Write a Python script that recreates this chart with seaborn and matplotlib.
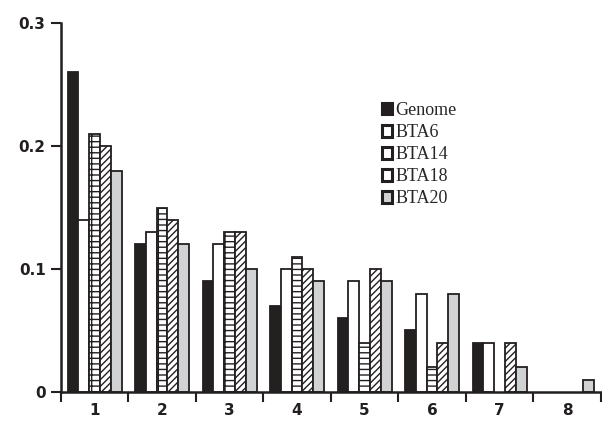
import pandas as pd
import matplotlib
matplotlib.use("Agg")
import matplotlib.pyplot as plt
import seaborn as sns
from matplotlib.patches import Patch

# values
categories = ["1", "2", "3", "4", "5", "6", "7", "8"]
genome = [0.26, 0.12, 0.09, 0.07, 0.06, 0.05, 0.04, 0.0]
bta6 = [0.14, 0.13, 0.12, 0.10, 0.09, 0.08, 0.04, 0.0]
bta14 = [0.21, 0.15, 0.13, 0.11, 0.04, 0.02, 0.0, 0.0]
bta18 = [0.20, 0.14, 0.13, 0.10, 0.10, 0.04, 0.04, 0.0]
bta20 = [0.18, 0.12, 0.10, 0.09, 0.09, 0.08, 0.02, 0.01]
series = ["Genome", "BTA6", "BTA14", "BTA18", "BTA20"]

df = pd.DataFrame({"cat": categories, "Genome": genome, "BTA6": bta6,
                   "BTA14": bta14, "BTA18": bta18, "BTA20": bta20})
long = df.melt(id_vars="cat", var_name="series", value_name="value")

sns.set_theme(style="white")
plt.rcParams["hatch.linewidth"] = 1.0

faces = {"Genome": "#231f20", "BTA6": "white", "BTA14": "white",
         "BTA18": "white", "BTA20": "#d1d2d4"}
hatches = {"Genome": "", "BTA6": "", "BTA14": "---|", "BTA18": "/////", "BTA20": ""}

fig = plt.figure(figsize=(6.02, 4.21), dpi=100)
ax = fig.add_axes([0.101, 0.069, 0.897, 0.876])
sns.barplot(data=long, x="cat", y="value", hue="series", hue_order=series,
            palette=faces, width=0.8, ax=ax, legend=False,
            edgecolor="#231f20", linewidth=1.3)

for cont, s in zip(ax.containers, series):
    for bar in cont:
        bar.set_hatch(hatches[s])
        bar.set_edgecolor("#231f20")
        if bar.get_height() == 0:
            bar.set_visible(False)

ax.set_xlim(-0.5, 7.5)
ax.set_ylim(0, 0.3)
ax.set_yticks([0, 0.1, 0.2, 0.3])
ax.set_yticklabels(["0", "0.1", "0.2", "0.3"])
ax.set_xticks(range(8))
ax.set_xticks([i - 0.5 for i in range(9)], minor=True)
ax.tick_params(axis="x", which="major", bottom=True, length=0, pad=8)
ax.tick_params(axis="x", which="minor", bottom=True, length=7, width=1.5,
               color="#231f20", direction="out")
ax.tick_params(axis="y", left=True, length=7, width=1.5, color="#231f20",
               direction="out", pad=4)
for lab in ax.get_xticklabels() + ax.get_yticklabels():
    lab.set_fontweight("bold")
    lab.set_fontsize(11)
    lab.set_color("#231f20")

ax.set_xlabel("")
ax.set_ylabel("")
for side in ["top", "right"]:
    ax.spines[side].set_visible(False)
for side in ["left", "bottom"]:
    ax.spines[side].set_linewidth(1.8)
    ax.spines[side].set_color("#231f20")

handles = [Patch(facecolor=faces[s], edgecolor="#231f20", linewidth=2.2, label=s)
           for s in series]
ax.legend(handles=handles, loc="upper left", bbox_to_anchor=(0.565, 0.83),
          frameon=False, handlelength=0.55, handleheight=0.6, handletextpad=0.2,
          labelspacing=0.28, prop={"family": "Liberation Serif", "size": 13})

plt.savefig("out.png", dpi=100)
